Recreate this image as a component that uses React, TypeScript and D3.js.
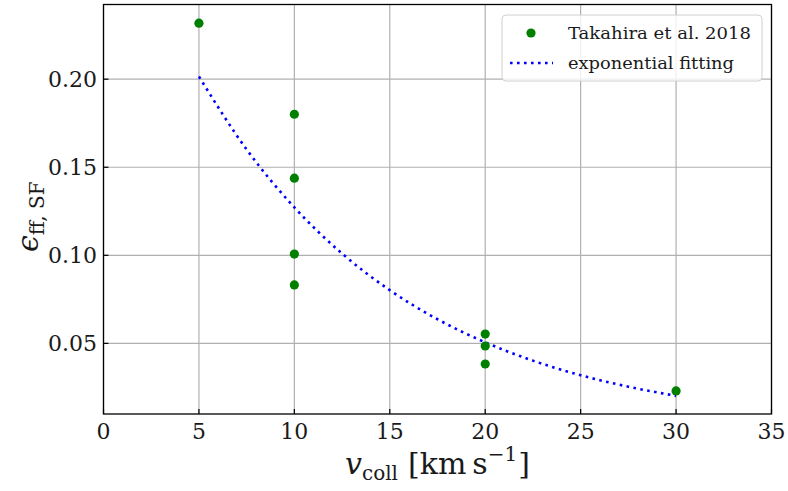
import React from "react";
import * as d3 from "d3";

const obsV = [5, 10, 10, 10, 10, 20, 20, 20, 30];
const obsEps = [0.2318, 0.1801, 0.1438, 0.1007, 0.0832, 0.0553, 0.0485, 0.0383, 0.023];
const fitV = [5, 7.5, 10, 12.5, 15, 17.5, 20, 22.5, 25, 27.5, 30];
const fitEps = [0.2015, 0.1601, 0.1272, 0.101, 0.0802, 0.0637, 0.0506, 0.0402, 0.0319, 0.0254, 0.0202];
const xTicks = [0, 5, 10, 15, 20, 25, 30, 35];
const yTicks = [0.05, 0.1, 0.15, 0.2];
const legendLabels = ["Takahira et al.  2018", "exponential fitting"];

const W = 788, H = 491;
const L = 103.5, R = 771.5, T = 4.5, B = 414;
const FONT = "'DejaVu Serif', serif";

export default function App() {
  const x = d3.scaleLinear().domain([0, 35]).range([L, R]);
  const y = d3.scaleLinear().domain([0.0099, 0.2424]).range([B, T]);
  const line = d3
    .line<number>()
    .x((_, i) => x(fitV[i]))
    .y((d) => y(d))
    .curve(d3.curveMonotoneX);
  const grid = "#b0b0b0";
  return (
    <svg width={W} height={H} style={{ position: "absolute", left: 0, top: 0, background: "#fff" }}>
      <defs>
        <clipPath id="clip">
          <rect x={L} y={T} width={R - L} height={B - T} />
        </clipPath>
      </defs>
      {xTicks.map((t) => (
        <line key={"gx" + t} x1={x(t)} x2={x(t)} y1={T} y2={B} stroke={grid} strokeWidth={1.2} />
      ))}
      {yTicks.map((t) => (
        <line key={"gy" + t} x1={L} x2={R} y1={y(t)} y2={y(t)} stroke={grid} strokeWidth={1.2} />
      ))}
      {xTicks.map((t) => (
        <g key={"tx" + t}>
          <line x1={x(t)} x2={x(t)} y1={B} y2={B - 5} stroke="#000" strokeWidth={1.2} />
          <text x={x(t)} y={439} textAnchor="middle" fontFamily={FONT} fontSize={22} fill="#1a1a1a">
            {t}
          </text>
        </g>
      ))}
      {yTicks.map((t) => (
        <g key={"ty" + t}>
          <line x1={L} x2={L + 5} y1={y(t)} y2={y(t)} stroke="#000" strokeWidth={1.2} />
          <text x={97} y={y(t) + 8} textAnchor="end" fontFamily={FONT} fontSize={22} fill="#1a1a1a">
            {t.toFixed(2)}
          </text>
        </g>
      ))}
      <g clipPath="url(#clip)">
        <path
          d={line(fitEps) || ""}
          fill="none"
          stroke="#0000ff"
          strokeWidth={2.6}
          strokeDasharray="2.6 4.4"
        />
        {obsV.map((v, i) => (
          <circle key={"p" + i} cx={x(v)} cy={y(obsEps[i])} r={4.6} fill="#008000" />
        ))}
      </g>
      <rect x={L} y={T} width={R - L} height={B - T} fill="none" stroke="#000" strokeWidth={1.3} />
      {/* legend */}
      <rect x={502} y={15} width={260} height={66} rx={4} fill="#fff" fillOpacity={0.8} stroke="#d0d0d0" strokeWidth={1} />
      <circle cx={531} cy={33} r={4.6} fill="#008000" />
      <text x={568} y={39} fontFamily={FONT} fontSize={17} fill="#1a1a1a" textLength={183} lengthAdjust="spacingAndGlyphs">
        {legendLabels[0]}
      </text>
      <line x1={510} x2={553} y1={63} y2={63} stroke="#0000ff" strokeWidth={2.6} strokeDasharray="2.6 4.4" />
      <text x={568} y={69} fontFamily={FONT} fontSize={17} fill="#1a1a1a" textLength={166} lengthAdjust="spacingAndGlyphs">
        {legendLabels[1]}
      </text>
      {/* x label */}
      <text x={345} y={474} fontFamily={FONT} fontSize={30} fill="#1a1a1a">
        <tspan fontStyle="italic">v</tspan>
        <tspan fontSize={20} dy={6}>coll</tspan>
        <tspan dy={-6} dx={10}>[km</tspan>
        <tspan dx={6}>s</tspan>
        <tspan fontSize={20} dy={-13}>−1</tspan>
        <tspan dy={13} dx={1}>]</tspan>
      </text>
      {/* y label */}
      <text transform="translate(38,252) rotate(-90)" fontFamily={FONT} fontSize={30} fill="#1a1a1a">
        <tspan fontStyle="italic">ϵ</tspan>
        <tspan fontSize={20} dy={6}>ff, SF</tspan>
      </text>
    </svg>
  );
}
